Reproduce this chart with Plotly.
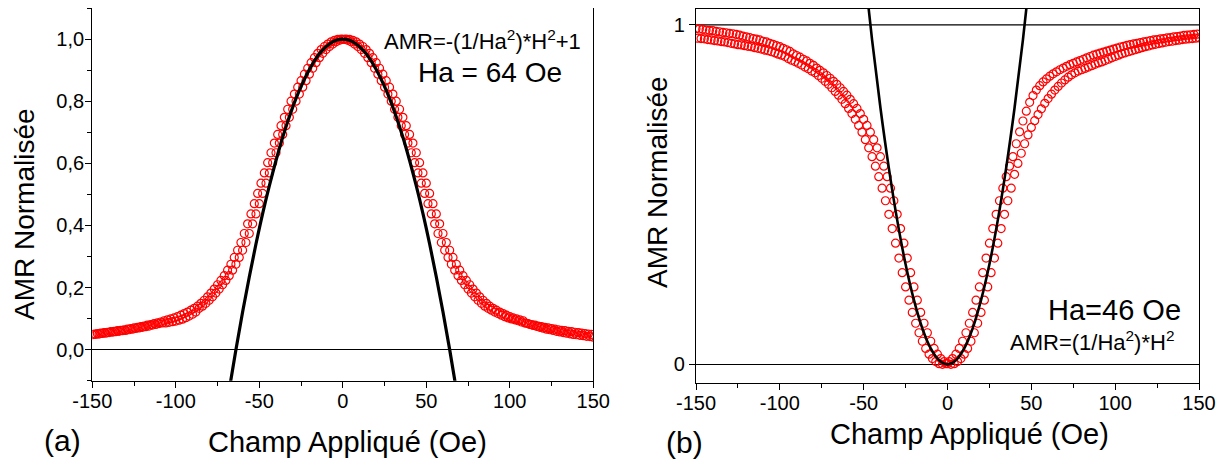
import plotly.graph_objects as go

# la page ajoute une marge de 8 px : la figure est réduite d'autant
OFF = 8
W, H = 1225 - OFF, 461 - OFF
FONT = "Liberation Sans, Arial, sans-serif"

# champ appliqué (Oe), deux balayages décalés
h_even = list(range(-150, 151, 2))
h_odd = list(range(-149, 150, 2))

# (a) AMR normalisée, balayage 1 (H pair)
amr_a_1 = [
    .048, .049, .050, .052, .053, .055, .056, .058, .059, .061,
    .062, .064, .066, .068, .070, .072, .074, .076, .079, .081,
    .084, .086, .086, .088, .090, .092, .095, .098, .103, .108,
    .114, .121, .133, .140, .149, .159, .170, .182, .195, .209,
    .223, .238, .256, .275, .297, .320, .345, .374, .405, .437,
    .470, .503, .536, .569, .602, .634, .665, .693, .721, .748,
    .774, .800, .823, .845, .866, .887, .906, .924, .940, .954,
    .966, .976, .984, .991, .996, .999,
    1.000, .999, .996, .991, .984, .976, .966, .954, .940, .924,
    .906, .887, .866, .845, .823, .800, .774, .748, .721, .693,
    .665, .634, .602, .569, .536, .503, .470, .437, .405, .374,
    .345, .320, .297, .275, .256, .238, .223, .209, .195, .182,
    .170, .159, .149, .140, .133, .127, .121, .116, .111, .106,
    .102, .099, .096, .093, .085, .081, .078, .075, .072, .069,
    .066, .064, .062, .059, .057, .055, .053, .051, .049, .048,
    .046, .045, .043, .042, .040,
]
# (a) balayage 2 (H impair)
amr_a_2 = [
    .050, .052, .053, .055, .056, .058, .059, .061, .062, .064,
    .066, .068, .070, .072, .074, .076, .079, .081, .084, .086,
    .089, .093, .096, .099, .102, .106, .111, .116, .121, .127,
    .133, .140, .149, .159, .170, .182, .195, .209, .223, .238,
    .256, .275, .297, .320, .345, .374, .405, .437, .470, .503,
    .536, .569, .602, .634, .665, .693, .721, .748, .774, .800,
    .823, .845, .866, .887, .906, .924, .940, .954, .966, .976,
    .984, .991, .996, .999, 1.000,
    .999, .996, .991, .984, .976, .966, .954, .940, .924, .906,
    .887, .866, .845, .823, .800, .774, .748, .721, .693, .665,
    .634, .602, .569, .536, .503, .470, .437, .405, .374, .345,
    .320, .297, .275, .256, .238, .223, .209, .195, .182, .170,
    .159, .149, .140, .133, .127, .121, .116, .111, .106, .102,
    .099, .096, .093, .089, .086, .084, .081, .079, .076, .074,
    .072, .070, .068, .066, .064, .062, .061, .059, .058, .056,
    .055, .053, .052, .050, .049,
]

# (b) balayage 1 (H pair)
amr_b_1 = [
    .989, .988, .987, .985, .984, .983, .981, .980, .978, .977,
    .975, .974, .972, .970, .967, .965, .963, .960, .958, .956,
    .952, .950, .946, .943, .939, .936, .931, .927, .922, .915,
    .910, .905, .899, .894, .887, .881, .873, .866, .859, .851,
    .843, .834, .825, .815, .804, .793, .781, .768, .754, .739,
    .722, .704, .684, .662, .638, .612, .584, .553, .519, .482,
    .442, .400, .357, .313, .270, .228, .189, .153, .121, .093,
    .068, .047, .030, .017, .008, .002,
    .000, .002, .008, .017, .030, .047, .068, .093, .121, .153,
    .189, .228, .270, .313, .357, .400, .442, .482, .519, .560,
    .592, .622, .650, .676, .698, .718, .736, .753, .769, .783,
    .796, .808, .819, .829, .838, .846, .853, .859, .864, .868,
    .872, .876, .880, .884, .888, .891, .895, .899, .903, .907,
    .911, .915, .918, .921, .924, .927, .930, .933, .936, .938,
    .941, .943, .945, .947, .949, .951, .952, .954, .955, .957,
    .958, .959, .960, .961, .962,
]
# (b) balayage 2 (H impair)
amr_b_2 = [
    .961, .960, .959, .957, .956, .954, .953, .951, .950, .948,
    .946, .944, .942, .941, .939, .937, .936, .933, .931, .929,
    .926, .924, .921, .918, .914, .911, .907, .901, .896, .892,
    .887, .882, .876, .871, .864, .859, .851, .843, .834, .825,
    .815, .804, .793, .781, .768, .754, .739, .722, .704, .684,
    .662, .638, .612, .584, .553, .519, .482, .442, .400, .357,
    .313, .270, .228, .189, .153, .121, .093, .068, .047, .030,
    .017, .008, .002, .000, .002,
    .008, .017, .030, .047, .068, .093, .121, .153, .189, .228,
    .270, .313, .357, .400, .442, .482, .519, .553, .584, .612,
    .650, .685, .717, .746, .772, .792, .808, .821, .832, .841,
    .849, .856, .862, .868, .873, .878, .883, .887, .891, .895,
    .899, .903, .907, .911, .914, .917, .920, .923, .926, .929,
    .932, .935, .937, .940, .942, .944, .946, .948, .950, .952,
    .954, .956, .957, .959, .960, .962, .963, .965, .966, .967,
    .969, .970, .971, .972, .973,
]

# ajustements paraboliques (Ha = 64 Oe et Ha = 46 Oe)
fit_h_a = [-68, -64, -60, -56, -52, -48, -44, -40, -36, -32, -28, -24, -20, -16, -12, -8, -4, 0,
           4, 8, 12, 16, 20, 24, 28, 32, 36, 40, 44, 48, 52, 56, 60, 64, 68]
fit_a = [-.129, .000, .121, .234, .340, .438, .527, .609, .684, .750, .809, .859, .902, .938, .965, .984, .996, 1.0,
         .996, .984, .965, .938, .902, .859, .809, .750, .684, .609, .527, .438, .340, .234, .121, .000, -.129]
fit_h_b = [-50, -45, -40, -35, -30, -25, -20, -15, -10, -5, 0, 5, 10, 15, 20, 25, 30, 35, 40, 45, 50]
fit_b = [1.182, .957, .756, .579, .425, .295, .189, .106, .047, .012, 0.0,
         .012, .047, .106, .189, .295, .425, .579, .756, .957, 1.182]

x_ticks = [-150, -100, -50, 0, 50, 100, 150]
x_tick_labels = ["-150", "-100", "-50", "0", "50", "100", "150"]
x_minor = [-125, -75, -25, 25, 75, 125]
ya_ticks = [0, 0.2, 0.4, 0.6, 0.8, 1.0]
ya_tick_labels = ["0,0", "0,2", "0,4", "0,6", "0,8", "1,0"]
ya_minor = [-0.1, 0.1, 0.3, 0.5, 0.7, 0.9, 1.1]
yb_ticks = [0, 1]
yb_tick_labels = ["0", "1"]


def px(x, y):
    # position en pixels de l'image de référence -> coordonnées papier
    return (x - OFF) / W, 1 - (y - OFF) / H


fig = go.Figure()

marker = dict(symbol="circle-open", size=8, color="#ff0000", line=dict(width=1.2, color="#ff0000"))
for xs, ys, ax in [(h_even, amr_a_1, ("x", "y")), (h_odd, amr_a_2, ("x", "y")),
                   (h_even, amr_b_1, ("x2", "y2")), (h_odd, amr_b_2, ("x2", "y2"))]:
    fig.add_trace(go.Scatter(x=xs, y=ys, mode="markers", marker=marker,
                             xaxis=ax[0], yaxis=ax[1], showlegend=False))

fig.add_trace(go.Scatter(x=fit_h_a, y=fit_a, mode="lines", line=dict(color="black", width=3.2, shape="spline"),
                         xaxis="x", yaxis="y", showlegend=False))
fig.add_trace(go.Scatter(x=fit_h_b, y=fit_b, mode="lines", line=dict(color="black", width=2.6, shape="spline"),
                         xaxis="x2", yaxis="y2", showlegend=False))

tickfont = dict(family=FONT, size=20, color="black")
axline = dict(showline=True, linecolor="black", linewidth=1.3, mirror=True, showgrid=False,
              tickcolor="black", tickwidth=1.2, automargin=False)


def xax(dom, anchor):
    return dict(domain=dom, anchor=anchor, range=[-150, 150], ticks="outside", ticklen=6,
                tickmode="array", tickvals=x_ticks, ticktext=x_tick_labels, tickfont=tickfont,
                ticklabelstandoff=-4,
                minor=dict(ticks="outside", ticklen=4, tickvals=x_minor, tickcolor="black"),
                zeroline=False, **axline)


def x_top(over, anchor):
    return dict(overlaying=over, anchor=anchor, side="top", range=[-150, 150], ticks="inside",
                ticklen=6, tickcolor="black", tickvals=x_ticks, showticklabels=False,
                minor=dict(ticks="inside", ticklen=4, tickvals=x_minor, tickcolor="black"),
                showline=False, showgrid=False, zeroline=False, automargin=False)


xa_dom = [px(92.3, 0)[0], px(593.3, 0)[0]]
xb_dom = [px(696, 0)[0], px(1199, 0)[0]]
ya_dom = [px(0, 380.7)[1], min(1.0, px(0, 7.3)[1])]
yb_dom = [px(0, 383)[1], px(0, 9)[1]]

fig.update_layout(
    width=W, height=H,
    margin=dict(l=0, r=0, t=0, b=0, pad=0, autoexpand=False),
    paper_bgcolor="white", plot_bgcolor="white",
    font=dict(family=FONT, color="black"),
    xaxis=xax(xa_dom, "y"),
    xaxis2=xax(xb_dom, "y2"),
    xaxis3=x_top("x", "y"),
    xaxis4=x_top("x2", "y2"),
    yaxis=dict(domain=ya_dom, anchor="x", range=[-0.1, 1.1], ticks="outside", ticklen=6,
               tickmode="array", tickvals=ya_ticks, ticktext=ya_tick_labels, tickfont=tickfont,
               ticklabelstandoff=-3,
               minor=dict(ticks="outside", ticklen=4, tickvals=ya_minor, tickcolor="black"),
               zeroline=True, zerolinecolor="black", zerolinewidth=1.2, **axline),
    yaxis3=dict(overlaying="y", anchor="x", side="right", range=[-0.1, 1.1], ticks="inside", ticklen=6,
                tickcolor="black", tickvals=ya_ticks, showticklabels=False,
                minor=dict(ticks="inside", ticklen=4, tickvals=ya_minor, tickcolor="black"),
                showline=False, showgrid=False, zeroline=False, automargin=False),
    yaxis2=dict(domain=yb_dom, anchor="x2", range=[-0.055, 1.047], ticks="outside", ticklen=6,
                tickmode="array", tickvals=yb_ticks, ticktext=yb_tick_labels, tickfont=tickfont,
                zeroline=True, zerolinecolor="black", zerolinewidth=1.2, **axline),
    yaxis4=dict(overlaying="y2", anchor="x2", side="right", range=[-0.055, 1.047], ticks="inside", ticklen=6,
                tickcolor="black", tickvals=[0, 0.5, 1], showticklabels=False,
                showline=False, showgrid=False, zeroline=False, automargin=False),
)

fig.add_shape(type="line", xref="x2 domain", yref="y2", x0=0, x1=1, y0=1, y1=1,
              line=dict(color="black", width=1.2), layer="below")


def note(text, x, y, size, xanchor="center", angle=0):
    ax_, ay_ = px(x, y)
    fig.add_annotation(text=text, x=ax_, y=ay_, xref="paper", yref="paper", showarrow=False,
                       xanchor=xanchor, yanchor="middle", textangle=angle,
                       font=dict(family=FONT, size=size, color="black"))


note("Champ Appliqué (Oe)", 347, 442, 29)
note("Champ Appliqué (Oe)", 969, 434, 29)
note("(a)", 62, 440, 30)
note("(b)", 684, 442, 30)
note("AMR Normalisée", 24, 214, 28, angle=-90)
note("AMR Normalisée", 658, 182, 28, angle=-90)
note("AMR=-(1/Ha<sup>2</sup>)*H<sup>2</sup>+1", 583, 40, 22, xanchor="right")
note("Ha = 64 Oe", 564, 72, 28, xanchor="right")
note("Ha=46 Oe", 1183, 310, 29, xanchor="right")
note("AMR=(1/Ha<sup>2</sup>)*H<sup>2</sup>", 1176, 341, 22, xanchor="right")

fig.write_html("out.html")
